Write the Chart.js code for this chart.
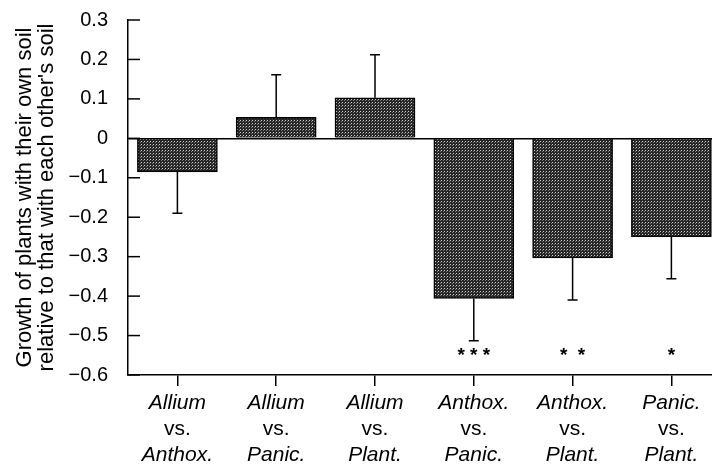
<!DOCTYPE html>
<html>
<head>
<meta charset="utf-8">
<script src="https://cdn.jsdelivr.net/npm/chart.js@4/dist/chart.umd.min.js"></script>
<style>
  body { margin:0; background:#fff; }
  #wrap { width:712px; height:464px; }
</style>
</head>
<body>
<div id="wrap"><canvas id="growthChart"></canvas></div>
<script>
// comparisons: first plant, second plant
const plantA = ["Allium", "Allium", "Allium", "Anthox.", "Anthox.", "Panic."];
const plantB = ["Anthox.", "Panic.", "Plant.", "Panic.", "Plant.", "Plant."];
const growthMeans = [-0.085, 0.053, 0.103, -0.406, -0.303, -0.249];
const growthErrors = [0.105, 0.108, 0.109, 0.107, 0.107, 0.107];
const signif = ["", "", "", "* * *", "*  *", "*"];
const yTitle = ["Growth of plants with their own soil", "relative to that with each other's soil"];

const font = "'Liberation Sans', Arial, Helvetica, sans-serif";

// stippled fill like the printed figure
function stipple(){
    const c = document.createElement("canvas");
    c.width = 3; c.height = 3;
    const g = c.getContext("2d");
    g.fillStyle = "#262626";
    g.fillRect(0,0,3,3);
    g.fillStyle = "#d0d0d0";
    g.fillRect(0,0,1,1);
    g.fillStyle = "#7a7a7a";
    g.fillRect(2,1,1,1);
    return g.createPattern(c, "repeat");
}

const extras = {
    id: "extras",
    afterDatasetsDraw(chart){
        const ctx = chart.ctx;
        const xs = chart.scales.x, ys = chart.scales.y;
        ctx.save();
        ctx.strokeStyle = "#000";
        ctx.lineWidth = 1.5;
        // error bars
        growthMeans.forEach((m,i)=>{
            const x = xs.getPixelForValue(i);
            const e = m < 0 ? m - growthErrors[i] : m + growthErrors[i];
            const y0 = ys.getPixelForValue(m), y1 = ys.getPixelForValue(e);
            ctx.beginPath();
            ctx.moveTo(x, y0); ctx.lineTo(x, y1);
            ctx.moveTo(x-5, y1); ctx.lineTo(x+5, y1);
            ctx.stroke();
        });
        // inward y ticks
        ys.ticks.forEach(t=>{
            const y = ys.getPixelForValue(t.value);
            ctx.beginPath();
            ctx.moveTo(chart.chartArea.left, y);
            ctx.lineTo(chart.chartArea.left+12, y);
            ctx.stroke();
        });
        // significance stars
        ctx.fillStyle = "#000";
        ctx.textAlign = "center";
        ctx.textBaseline = "middle";
        ctx.font = "bold 19px " + font;
        signif.forEach((s,i)=>{
            if(!s) return;
            ctx.fillText(s, xs.getPixelForValue(i), ys.getPixelForValue(-0.55));
        });
        // category labels, italic names and upright "vs."
        plantA.forEach((a,i)=>{
            const x = xs.getPixelForValue(i);
            const top = xs.top;
            ctx.font = "italic 21px " + font;
            ctx.fillText(a, x, top+28);
            ctx.font = "21px " + font;
            ctx.fillText("vs.", x, top+54);
            ctx.font = "italic 21px " + font;
            ctx.fillText(plantB[i], x, top+80);
        });
        ctx.restore();
    }
};

const growthChart = new Chart(document.getElementById("growthChart"), {
    type: "bar",
    data: {
        datasets: [{
            data: growthMeans.map((v,i)=>({x:i, y:v})),
            backgroundColor: stipple(),
            borderColor: "#000",
            borderWidth: 1.5,
            barThickness: 80
        }]
    },
    options: {
        responsive: true,
        maintainAspectRatio: false,
        animation: false,
        layout: { padding: { top: 20, left: 0, right: 0, bottom: 0 } },
        plugins: {
            legend: { display: false },
            tooltip: { enabled: false }
        },
        scales: {
            x: {
                type: "linear",
                offset: false,
                min: -0.5,
                max: 5.411,
                afterBuildTicks(scale){
                    scale.ticks = [-0.5,0.5,1.5,2.5,3.5,4.5].map(v=>({value:v}));
                },
                afterFit(scale){
                    scale.height = 89;
                    scale.paddingLeft = 0; scale.paddingRight = 0;
                },
                ticks: { callback: ()=>"" },
                grid: { drawOnChartArea:false, tickLength:11, color:"#000", lineWidth:1.5 },
                border: { color:"#000", width:1.5 }
            },
            y: {
                min: -0.6,
                max: 0.3,
                afterFit(scale){
                    scale.width = 128;
                    scale.paddingTop = 0; scale.paddingBottom = 0;
                },
                ticks: {
                    stepSize: 0.1,
                    padding: 20,
                    color: "#000",
                    font: { family: font, size: 20 },
                    callback: v=>{
                        const r = Math.round(v*10)/10;
                        if(r === 0) return "0";
                        return (r < 0 ? "\u2212" : "") + Math.abs(r).toFixed(1);
                    }
                },
                grid: {
                    drawTicks: false,
                    lineWidth: 1.5,
                    color: c=> (c.tick && Math.abs(c.tick.value) < 1e-9) ? "#000" : "rgba(0,0,0,0)"
                },
                border: { color:"#000", width:1.5 },
                title: {
                    display: true,
                    text: yTitle,
                    color: "#000",
                    font: { family: font, size: 22, lineHeight: 1.0 },
                    padding: { top: 14, bottom: 0 }
                }
            }
        }
    },
    plugins: [extras]
});
</script>
</body>
</html>
